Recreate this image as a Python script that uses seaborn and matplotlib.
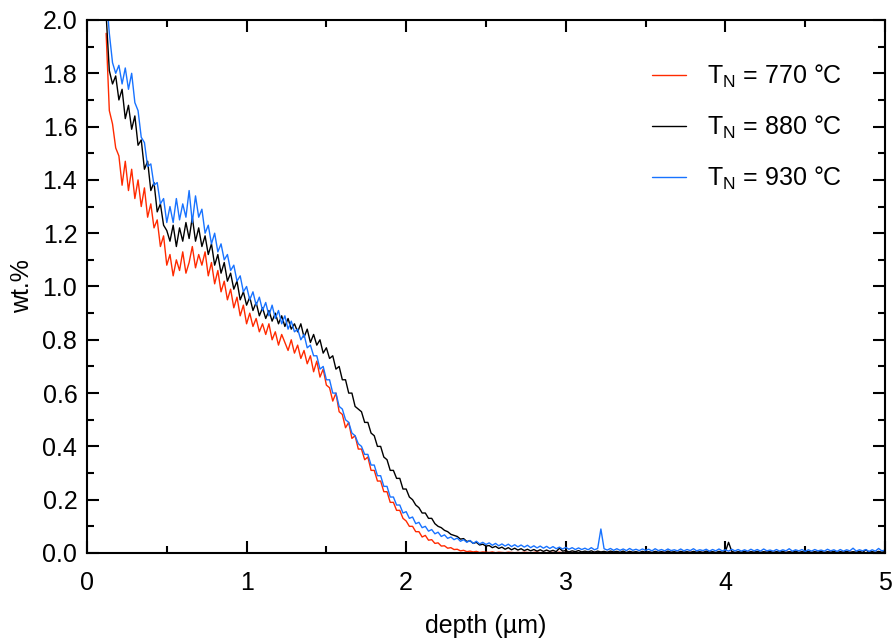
import numpy as np
import pandas as pd
import matplotlib
matplotlib.use("Agg")
import matplotlib.pyplot as plt
import seaborn as sns
from matplotlib.ticker import MultipleLocator
from matplotlib.lines import Line2D

# ---- data ----
depth_start = 0.12   # µm
depth_step = 0.02    # µm
n_points = 245

labels = [r"T$_\mathrm{N}$ = 770 °C", r"T$_\mathrm{N}$ = 880 °C", r"T$_\mathrm{N}$ = 930 °C"]
colors = ["#ff2a00", "#000000", "#1873ff"]

wt_770 = [
    1.95, 1.66, 1.61, 1.52, 1.49, 1.38, 1.47, 1.36, 1.44, 1.33,
    1.40, 1.30, 1.37, 1.26, 1.31, 1.22, 1.25, 1.15, 1.19, 1.08,
    1.12, 1.04, 1.10, 1.06, 1.13, 1.05, 1.09, 1.15, 1.07, 1.12,
    1.08, 1.13, 1.04, 1.09, 1.01, 1.06, 0.98, 1.02, 0.95, 0.99,
    0.92, 0.96, 0.89, 0.93, 0.86, 0.90, 0.85, 0.88, 0.83, 0.86,
    0.82, 0.86, 0.80, 0.83, 0.78, 0.82, 0.79, 0.76, 0.80, 0.75,
    0.78, 0.73, 0.76, 0.71, 0.74, 0.68, 0.72, 0.66, 0.69, 0.63,
    0.62, 0.57, 0.60, 0.53, 0.52, 0.47, 0.49, 0.43, 0.44, 0.39,
    0.39, 0.35, 0.36, 0.31, 0.31, 0.27, 0.27, 0.23, 0.23, 0.19,
    0.19, 0.16, 0.16, 0.13, 0.12, 0.10, 0.10, 0.08, 0.08, 0.06,
    0.066, 0.048, 0.050, 0.036, 0.038, 0.026, 0.027, 0.018, 0.020, 0.013,
    0.014, 0.008, 0.010, 0.005, 0.007, 0.004, 0.006, 0.002, 0.004, 0.003,
    0.002, 0.004, 0.001, 0.003, 0.002, 0.001, 0.003, 0.002, 0.001, 0.002,
    0.001, 0.003, 0.002, 0.001, 0.002, 0.004, 0.001, 0.002, 0.001, 0.003,
    0.002, 0.001, 0.003, 0.001, 0.002, 0.001, 0.002, 0.003, 0.001, 0.002,
    0.001, 0.002, 0.001, 0.003, 0.001, 0.002, 0.001, 0.002, 0.003, 0.001,
    0.002, 0.001, 0.002, 0.001, 0.003, 0.001, 0.002, 0.001, 0.002, 0.001,
    0.003, 0.001, 0.002, 0.001, 0.002, 0.003, 0.001, 0.002, 0.001, 0.002,
    0.001, 0.002, 0.001, 0.003, 0.001, 0.002, 0.001, 0.002, 0.001, 0.003,
    0.002, 0.001, 0.002, 0.001, 0.002, 0.001, 0.003, 0.001, 0.002, 0.001,
    0.002, 0.003, 0.001, 0.002, 0.001, 0.002, 0.001, 0.003, 0.001, 0.002,
    0.001, 0.002, 0.001, 0.002, 0.003, 0.001, 0.002, 0.001, 0.002, 0.001,
    0.003, 0.001, 0.002, 0.001, 0.002, 0.001, 0.002, 0.003, 0.001, 0.002,
    0.001, 0.002, 0.001, 0.003, 0.001, 0.002, 0.001, 0.002, 0.001, 0.002,
    0.002, 0.001, 0.003, 0.001, 0.002,
]

wt_880 = [
    2.02, 1.81, 1.76, 1.79, 1.70, 1.74, 1.63, 1.68, 1.59, 1.64,
    1.53, 1.55, 1.44, 1.47, 1.36, 1.39, 1.28, 1.31, 1.23, 1.21,
    1.17, 1.23, 1.15, 1.22, 1.17, 1.24, 1.18, 1.26, 1.17, 1.22,
    1.15, 1.19, 1.12, 1.16, 1.08, 1.12, 1.05, 1.09, 1.02, 1.05,
    0.99, 1.02, 0.95, 0.98, 0.93, 0.96, 0.91, 0.94, 0.89, 0.92,
    0.88, 0.91, 0.87, 0.90, 0.86, 0.89, 0.85, 0.88, 0.84, 0.86,
    0.83, 0.86, 0.81, 0.84, 0.79, 0.82, 0.78, 0.80, 0.75, 0.77,
    0.73, 0.74, 0.69, 0.70, 0.65, 0.65, 0.60, 0.60, 0.55, 0.54,
    0.53, 0.49, 0.49, 0.45, 0.44, 0.40, 0.40, 0.36, 0.35, 0.31,
    0.31, 0.28, 0.28, 0.24, 0.24, 0.21, 0.20, 0.18, 0.17, 0.15,
    0.15, 0.13, 0.13, 0.11, 0.10, 0.095, 0.085, 0.080, 0.070, 0.066,
    0.062, 0.052, 0.054, 0.043, 0.046, 0.036, 0.040, 0.030, 0.033, 0.026,
    0.028, 0.020, 0.025, 0.017, 0.022, 0.014, 0.020, 0.012, 0.018, 0.011,
    0.016, 0.009, 0.014, 0.008, 0.013, 0.007, 0.012, 0.006, 0.011, 0.006,
    0.010, 0.005, 0.018, 0.007, 0.009, 0.004, 0.008, 0.005, 0.009, 0.004,
    0.007, 0.004, 0.008, 0.003, 0.007, 0.004, 0.006, 0.003, 0.007, 0.004,
    0.006, 0.003, 0.007, 0.002, 0.006, 0.003, 0.005, 0.002, 0.006, 0.003,
    0.005, 0.002, 0.006, 0.003, 0.005, 0.002, 0.007, 0.003, 0.005, 0.002,
    0.006, 0.003, 0.005, 0.002, 0.006, 0.003, 0.005, 0.002, 0.007, 0.003,
    0.005, 0.002, 0.006, 0.003, 0.005, 0.040, 0.006, 0.002, 0.005, 0.003,
    0.006, 0.002, 0.005, 0.003, 0.006, 0.002, 0.005, 0.003, 0.006, 0.002,
    0.005, 0.003, 0.006, 0.002, 0.005, 0.003, 0.007, 0.002, 0.005, 0.003,
    0.006, 0.002, 0.005, 0.003, 0.006, 0.002, 0.005, 0.003, 0.006, 0.002,
    0.005, 0.003, 0.006, 0.002, 0.005, 0.003, 0.006, 0.002, 0.012, 0.003,
    0.005, 0.002, 0.006, 0.003, 0.005,
]

wt_930 = [
    2.10, 1.95, 1.84, 1.80, 1.83, 1.76, 1.82, 1.74, 1.80, 1.69,
    1.66, 1.56, 1.54, 1.45, 1.46, 1.38, 1.39, 1.31, 1.33, 1.24,
    1.30, 1.24, 1.33, 1.25, 1.31, 1.26, 1.36, 1.24, 1.34, 1.26,
    1.29, 1.20, 1.23, 1.16, 1.20, 1.13, 1.16, 1.10, 1.12, 1.06,
    1.08, 1.02, 1.04, 0.98, 1.00, 0.95, 0.98, 0.93, 0.96, 0.91,
    0.94, 0.89, 0.93, 0.88, 0.91, 0.86, 0.89, 0.84, 0.87, 0.83,
    0.84, 0.80, 0.82, 0.77, 0.78, 0.74, 0.74, 0.69, 0.70, 0.65,
    0.65, 0.60, 0.60, 0.55, 0.54, 0.50, 0.49, 0.45, 0.44, 0.41,
    0.40, 0.37, 0.37, 0.33, 0.33, 0.29, 0.29, 0.25, 0.25, 0.21,
    0.21, 0.18, 0.18, 0.15, 0.155, 0.13, 0.135, 0.11, 0.115, 0.095,
    0.100, 0.082, 0.088, 0.072, 0.078, 0.062, 0.068, 0.055, 0.060, 0.050,
    0.056, 0.044, 0.050, 0.040, 0.047, 0.036, 0.044, 0.034, 0.040, 0.032,
    0.038, 0.029, 0.036, 0.027, 0.034, 0.026, 0.033, 0.024, 0.031, 0.023,
    0.030, 0.022, 0.029, 0.020, 0.027, 0.019, 0.026, 0.018, 0.025, 0.017,
    0.024, 0.016, 0.022, 0.015, 0.021, 0.014, 0.020, 0.013, 0.019, 0.013,
    0.018, 0.012, 0.020, 0.012, 0.017, 0.090, 0.016, 0.011, 0.017, 0.010,
    0.016, 0.010, 0.015, 0.009, 0.017, 0.010, 0.014, 0.009, 0.015, 0.010,
    0.014, 0.008, 0.016, 0.009, 0.013, 0.008, 0.015, 0.009, 0.012, 0.008,
    0.015, 0.008, 0.013, 0.009, 0.016, 0.008, 0.012, 0.009, 0.014, 0.007,
    0.013, 0.008, 0.015, 0.008, 0.012, 0.007, 0.014, 0.008, 0.013, 0.007,
    0.012, 0.007, 0.014, 0.008, 0.013, 0.007, 0.015, 0.008, 0.011, 0.007,
    0.013, 0.007, 0.012, 0.008, 0.016, 0.007, 0.012, 0.008, 0.013, 0.006,
    0.012, 0.007, 0.013, 0.008, 0.011, 0.007, 0.014, 0.008, 0.012, 0.006,
    0.013, 0.007, 0.012, 0.008, 0.018, 0.007, 0.012, 0.008, 0.013, 0.006,
    0.012, 0.007, 0.017, 0.008, 0.011,
]

xticks = [0, 1, 2, 3, 4, 5]
yticks = [0.0, 0.2, 0.4, 0.6, 0.8, 1.0, 1.2, 1.4, 1.6, 1.8, 2.0]

# ---- build long-form table ----
depth = np.round(depth_start + depth_step * np.arange(n_points), 3)
frames = []
for lab, vals in zip(labels, [wt_770, wt_880, wt_930]):
    frames.append(pd.DataFrame({"depth": depth, "wt": vals, "series": lab}))
df = pd.concat(frames, ignore_index=True)

# ---- style ----
sns.set_theme(style="ticks")
plt.rcParams["font.family"] = ["Liberation Sans", "DejaVu Sans"]
plt.rcParams["mathtext.fontset"] = "custom"
plt.rcParams["mathtext.rm"] = "Liberation Sans"
plt.rcParams["mathtext.it"] = "Liberation Sans:italic"
plt.rcParams["text.color"] = "black"
plt.rcParams["axes.labelcolor"] = "black"
plt.rcParams["xtick.color"] = "black"
plt.rcParams["ytick.color"] = "black"

FS = 18

fig = plt.figure(figsize=(8.93, 6.41), dpi=100)
ax = fig.add_axes([0.0974, 0.1373, 0.8936, 0.8315])

sns.lineplot(data=df, x="depth", y="wt", hue="series", hue_order=labels,
             palette=dict(zip(labels, colors)), estimator=None, sort=False,
             linewidth=1.0, ax=ax, legend=False)

ax.set_xlim(0, 5)
ax.set_ylim(0, 2.0)
ax.set_xticks(xticks)
ax.set_xticklabels([str(v) for v in xticks])
ax.set_yticks(yticks)
ax.set_yticklabels([f"{v:.1f}" for v in yticks])
ax.xaxis.set_minor_locator(MultipleLocator(0.5))
ax.yaxis.set_minor_locator(MultipleLocator(0.1))
ax.tick_params(which="both", direction="in", top=True, right=True, width=1.5,
               labelsize=FS, colors="black")
ax.tick_params(which="major", length=8.5)
ax.tick_params(which="minor", length=5)
ax.tick_params(axis="x", which="major", pad=13)
ax.tick_params(axis="y", which="major", pad=7)
for s in ax.spines.values():
    s.set_linewidth(1.5)
    s.set_color("black")

ax.set_xlabel("depth (µm)", fontsize=FS, labelpad=14)
ax.set_ylabel("wt.%", fontsize=FS, labelpad=6)

handles = [Line2D([0], [0], color=c, lw=1.0) for c in colors]
ax.legend(handles, labels, loc="upper left", frameon=False, fontsize=FS,
          handlelength=1.36, handletextpad=0.84, labelspacing=0.95,
          borderpad=0, borderaxespad=0,
          bbox_to_anchor=(0.708, 0.92))

fig.savefig("out.png", dpi=100, facecolor="white")
